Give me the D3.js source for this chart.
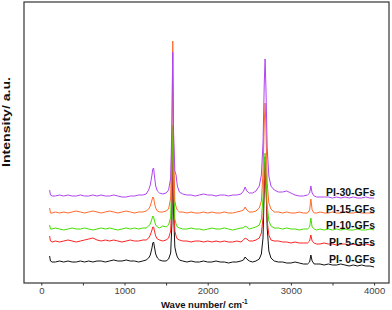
<!DOCTYPE html>
<html>
<head>
<meta charset="utf-8">
<script src="https://cdn.jsdelivr.net/npm/d3@7"></script>
<style>
  body { margin: 0; background: #fff; }
  text { font-family: "Liberation Sans", Arial, sans-serif; }
</style>
</head>
<body>
<svg id="chart" width="392" height="310"></svg>
<script>
// wavenumbers shared by all spectra (cm-1)
const waves = [
  100,110,130,170,220,270,320,370,420,470,520,570,620,670,720,770,820,870,920,970,1020,1070,1120,1170,1220,
  1260,1290,1310,1330,1340,1350,1360,1375,1395,1420,1460,1500,1530,1555,1570,1580,1590,1605,1620,1635,1660,1700,
  1750,1800,1850,1900,1950,2000,2050,2100,2150,2200,2250,2300,2350,2400,
  2430,2450,2470,2500,2540,2580,2620,2645,2665,2680,2690,2700,2715,2735,2760,2800,
  2850,2900,2950,3000,3050,3100,3150,3200,3225,3240,3255,3280,3310,
  3350,3400,3450,3500,3550,3600,3650,3700,3750,3800,3850,3900,3950,4000
]

// intensities (offset already included)
const gf0 = [
  27,22,21,21,22,21,22,21,21,22,21,22,21,22,22,21,22,23,22,22,23,22,22,21,22,
  23,25,28,35,40,41,36,29,25,23,22,22,24,30,60,140,70,36,30,26,23,22,
  21,22,21,21,22,21,21,22,21,21,20,21,21,22,
  23,26,24,22,21,22,24,29,45,95,126,100,55,32,25,22,
  21,21,20,20,21,20,19,19,21,28,22,19,19,
  19,18,19,18,18,19,18,17,18,17,18,17,17,16
]
const gf5 = [
  47,42,41,42,41,42,43,42,41,42,43,44,45,43,42,43,42,43,42,41,42,43,42,42,43,
  43,45,48,53,56,56,52,47,44,43,42,43,45,52,85,150,90,52,47,44,43,42,
  42,41,42,42,41,42,41,42,41,42,41,41,42,41,
  43,45,44,42,42,43,45,50,65,100,118,100,62,48,43,42,
  42,41,41,40,41,40,40,40,42,48,42,40,39,
  39,40,39,39,38,39,39,38,39,38,38,39,38,38
]
const gf10 = [
  58,54,54,55,54,53,54,55,54,54,55,54,53,54,55,54,55,54,53,54,55,54,55,54,55,
  55,57,59,64,67,66,62,58,56,55,57,56,58,66,110,158,105,64,59,56,55,54,
  54,55,54,54,53,54,55,54,54,55,54,53,54,55,
  55,57,56,54,55,56,58,64,85,120,130,115,78,62,57,55,
  55,54,55,54,54,53,54,54,56,65,56,54,53,
  54,53,54,53,54,53,54,53,53,54,53,53,54,53
]
const gf15 = [
  75,70,70,71,70,71,70,71,72,71,70,71,72,71,70,71,72,71,70,71,72,71,70,71,71,
  72,74,77,83,86,85,80,75,72,71,71,72,74,85,150,242,140,82,76,73,71,71,
  70,71,70,70,71,70,71,70,70,71,70,70,71,72,
  73,76,73,71,71,72,75,82,110,160,180,155,100,80,74,71,
  71,70,71,70,70,71,70,70,73,84,73,70,70,
  71,70,70,71,70,70,71,70,70,71,70,70,70,70
]
const gf30 = [
  93,88,87,87,88,87,88,87,87,88,87,87,88,87,88,87,87,88,87,86,86,87,87,88,88,
  89,93,98,108,114,115,107,97,92,90,89,90,93,105,160,231,150,112,108,97,91,89,
  88,88,87,88,89,88,88,87,88,88,87,88,88,89,
  92,96,92,90,90,92,97,108,140,200,224,195,135,107,97,93,
  91,91,92,90,88,87,87,88,90,97,90,87,86,
  86,86,86,85,86,85,86,85,86,85,85,86,85,85
]

const seriesNames = ["PI- 0-GFs", "PI- 5-GFs", "PI-10-GFs", "PI-15-GFs", "PI-30-GFs"]
const seriesColors = ["#111111", "#ff2222", "#44dd00", "#ff6a2a", "#b044f0"]
const seriesValues = [gf0, gf5, gf10, gf15, gf30]
const labelLevels = [24, 41, 58, 74, 91]   // label position, in intensity units

const xTicks = [0, 500, 1000, 1500, 2000, 2500, 3000, 3500, 4000]

const svg = d3.select("#chart")
const plotL = 24, plotT = 2, plotR = 389, plotB = 283

const x = d3.scaleLinear().domain([0, 4000]).range([41.3, 374.1])
const y = d3.scaleLinear().domain([0, 281]).range([plotB, plotT])

const line = d3.line().x(d => x(d[0])).y(d => y(d[1]))

svg.append("g").selectAll("path").data(seriesValues).join("path")
  .attr("d", vals => line(waves.map((w, i) => [w, vals[i]])))
  .attr("fill", "none")
  .attr("stroke", (d, i) => seriesColors[i])
  .attr("stroke-width", 1)
  .attr("stroke-linejoin", "round")

// frame
svg.append("rect").attr("x", plotL).attr("y", plotT)
  .attr("width", plotR - plotL).attr("height", plotB - plotT)
  .attr("fill", "none").attr("stroke", "#333").attr("stroke-width", 1.2)

// bottom axis
const xAxis = d3.axisBottom(x).tickValues(xTicks).tickSize(2.5).tickPadding(2)
  .tickFormat(d => d % 1000 === 0 ? d : "")
const ax = svg.append("g").attr("transform", `translate(0,${plotB})`).call(xAxis)
ax.select(".domain").remove()
ax.selectAll("line").attr("stroke", "#333")
ax.selectAll("text").attr("fill", "#444").attr("font-size", 9.5)
  .style("font-family", "'Liberation Sans', Arial, sans-serif")

// series labels
svg.append("g").selectAll("text").data(seriesNames).join("text")
  .attr("x", 375)
  .attr("y", (d, i) => y(labelLevels[i]) + 3.7)
  .attr("text-anchor", "end")
  .attr("font-size", 10.5)
  .attr("font-weight", "bold")
  .attr("fill", "#111")
  .text(d => d)

// axis titles
const xt = svg.append("text").attr("x", 161).attr("y", 307.5)
  .attr("font-size", 9.5).attr("font-weight", "bold").attr("fill", "#111")
xt.append("tspan").text("Wave number/ cm")
xt.append("tspan").attr("dy", -4).attr("font-size", 6.5).text("-1")

svg.append("text")
  .attr("transform", "translate(10,122) rotate(-90)")
  .attr("text-anchor", "middle")
  .attr("font-size", 10).attr("font-weight", "bold").attr("fill", "#111")
  .attr("textLength", 90).attr("lengthAdjust", "spacingAndGlyphs")
  .text("Intensity/ a.u.")
</script>
</body>
</html>
